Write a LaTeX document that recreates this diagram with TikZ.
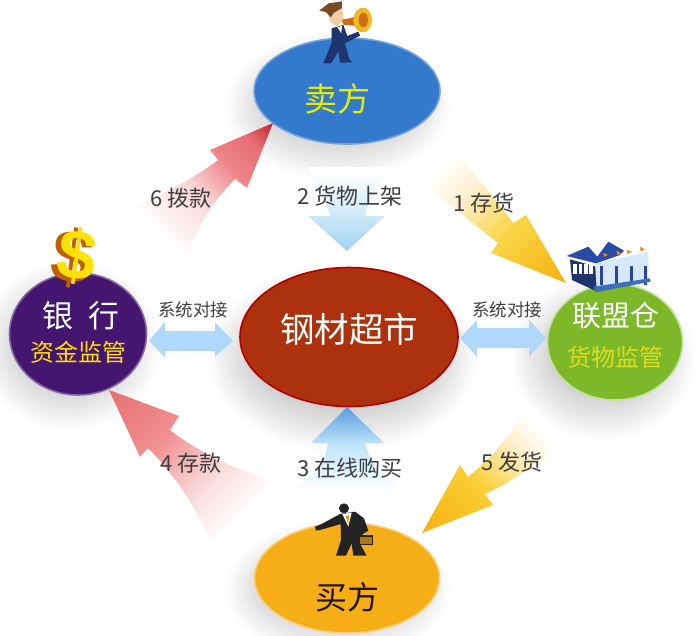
\documentclass[tikz,border=0pt]{standalone}
\usepackage{fontspec}
\setmainfont{Noto Sans CJK SC}
\newfontfamily\dollarfont{Liberation Sans}
\usetikzlibrary{shapes.geometric}
\definecolor{sellerblue}{RGB}{52,122,204}
\definecolor{bankpurple}{RGB}{68,22,112}
\definecolor{wareGreen}{RGB}{124,184,40}
\definecolor{buyerGold}{RGB}{245,174,24}
\definecolor{coreRed}{RGB}{172,50,14}
\definecolor{linkblue}{RGB}{176,216,250}
\definecolor{inkgrey}{RGB}{62,62,66}
\definecolor{navy}{RGB}{30,52,110}
\definecolor{skin}{RGB}{245,205,165}
\definecolor{hair}{RGB}{120,75,35}
\definecolor{horn}{RGB}{240,185,35}
\definecolor{horndark}{RGB}{205,110,20}
\definecolor{portico}{RGB}{215,232,250}
\definecolor{column}{RGB}{40,70,150}
\definecolor{roofblue}{RGB}{42,75,165}
\definecolor{baseblue}{RGB}{60,110,185}
\definecolor{suit}{RGB}{35,35,35}
\definecolor{tiegold}{RGB}{225,150,30}
\definecolor{sixa}{RGB}{250,215,215}
\definecolor{sixb}{RGB}{236,130,135}
\definecolor{sixc}{RGB}{232,110,115}
\definecolor{sixd}{RGB}{195,40,50}
\definecolor{foura}{RGB}{250,220,222}
\definecolor{fourb}{RGB}{240,145,145}
\definecolor{fourc}{RGB}{232,112,112}
\definecolor{onea}{RGB}{252,240,205}
\definecolor{oneb}{RGB}{251,212,70}
\definecolor{onec}{RGB}{245,178,15}
\definecolor{fivea}{RGB}{252,238,195}
\definecolor{fiveb}{RGB}{250,205,50}
\definecolor{fivec}{RGB}{245,178,20}
\definecolor{threea}{RGB}{190,228,250}
\definecolor{threeb}{RGB}{90,155,220}
\definecolor{twoa}{RGB}{205,233,250}
\definecolor{twob}{RGB}{160,210,242}
\pgfdeclareverticalshading{shadesix}{100bp}{color(0bp)=(white); color(30bp)=(white); color(50bp)=(sixa); color(65bp)=(sixb); color(76bp)=(sixc); color(85bp)=(sixd); color(100bp)=(sixd)}
\pgfdeclareverticalshading{shadefour}{100bp}{color(0bp)=(white); color(27bp)=(white); color(42bp)=(foura); color(62bp)=(fourb); color(85bp)=(fourc); color(100bp)=(fourc)}
\pgfdeclareverticalshading{shadeone}{100bp}{color(0bp)=(white); color(24bp)=(white); color(38bp)=(onea); color(58bp)=(oneb); color(85bp)=(onec); color(100bp)=(onec)}
\pgfdeclareverticalshading{shadefive}{100bp}{color(0bp)=(white); color(26bp)=(white); color(38bp)=(fivea); color(58bp)=(fiveb); color(85bp)=(fivec); color(100bp)=(fivec)}
\pgfdeclareverticalshading{shadethree}{100bp}{color(0bp)=(white); color(27bp)=(white); color(54bp)=(threea); color(75bp)=(threeb); color(100bp)=(threeb)}
\pgfdeclareverticalshading{shadetwo}{100bp}{color(0bp)=(white); color(28bp)=(white); color(54bp)=(twoa); color(75bp)=(twob); color(100bp)=(twob)}
\tikzset{
  x=1pt,y=-1pt,
  hub/.style={ellipse,inner sep=0pt,line width=1.6pt},
  cap22/.style={text=inkgrey,font=\fontsize{22}{22}\selectfont,inner sep=0pt},
  cap16/.style={text=inkgrey,font=\fontsize{17.5}{18}\selectfont,inner sep=0pt},
  linkarrow/.style={fill=linkblue},
  icon/.style={shift={(#1)},x=0.3333pt,y=-0.3333pt}
}
\newcommand{\softshadow}[4]{%
  \foreach \k in {0,...,15}{%
    \fill[black,opacity=0.011] (#1,#2) ellipse ({#3+24-3*\k} and {#4+24-3*\k});}}
\begin{document}
\begin{tikzpicture}
\useasboundingbox[fill=white] (0,0) rectangle (700,635);
% soft shadows
\softshadow{338}{106}{88}{50}
\softshadow{70}{346}{66}{60}
\softshadow{603}{358}{68}{58}
\softshadow{343}{358}{110}{70}
\softshadow{338}{590}{88}{46}
% hubs
\node[hub,fill=sellerblue,draw=sellerblue!70!white,minimum width=186pt,minimum height=106pt] (seller) at (347,91) {};
\node[hub,fill=bankpurple,draw=bankpurple!65!white,minimum width=137pt,minimum height=122pt] (bank) at (78,334) {};
\node[hub,fill=wareGreen,draw=wareGreen!45!white,minimum width=135pt,minimum height=116pt] (ware) at (615,342) {};
\node[hub,fill=buyerGold,draw=buyerGold!60!white,minimum width=185pt,minimum height=110pt] (buyer) at (347,578) {};
\node[hub,fill=coreRed,draw=red!70!black,minimum width=218pt,minimum height=139pt] (core) at (349,337) {};
% arrow anchors
\coordinate (tipsix) at (273,123);
\coordinate (tipfour) at (109,390);
\coordinate (tipone) at (566,283);
\coordinate (tipfive) at (422,533);
\coordinate (tiptwo) at (347,251);
\coordinate (tipthree) at (347,407);
% flow arrows
\shade[shading=shadesix,shading angle=-45] (tipsix) -- (247,188) -- (235,179)
  .. controls (212,203) and (197,226) .. (190,250) .. controls (176,262) and (160,270) .. (148,270)
  .. controls (140,250) and (134,230) .. (130,210) .. controls (160,195) and (195,178) .. (218,160) -- (210,150) -- cycle;
\shade[shading=shadefour,shading angle=45] (tipfour) -- (179,416) -- (170,430)
  .. controls (198,452) and (235,470) .. (273,480) .. controls (262,500) and (240,525) .. (210,540)
  .. controls (195,505) and (172,472) .. (148,448) -- (140,457) -- cycle;
\shade[shading=shadeone,shading angle=-135] (tipone) -- (526,215) -- (513,223)
  .. controls (495,198) and (470,168) .. (450,147) .. controls (440,148) and (430,160) .. (423,183)
  .. controls (450,205) and (475,225) .. (498,243) -- (491,253) -- cycle;
\shade[shading=shadefive,shading angle=135] (tipfive) -- (460,465) -- (468,477)
  .. controls (495,455) and (515,430) .. (527,405) .. controls (540,405) and (552,425) .. (557,447)
  .. controls (535,465) and (510,483) .. (485,494) -- (493,505) -- cycle;
\shade[shading=shadetwo,shading angle=180] (tiptwo) -- (308,216) -- (330,216)
  .. controls (325,195) and (315,180) .. (307,167) -- (393,167) .. controls (380,180) and (370,195) .. (365,216)
  -- (385,216) -- cycle;
\shade[shading=shadethree,shading angle=0] (tipthree) -- (311,443) -- (328,443)
  .. controls (325,465) and (310,480) .. (287,495) -- (410,495) .. controls (385,480) and (370,465) .. (365,443)
  -- (384,443) -- cycle;
% double arrows
\coordinate (ll) at (149,341); \coordinate (lr) at (233,341);
\coordinate (rl) at (460,338); \coordinate (rr) at (546,338);
\fill[linkarrow] (ll) -- (165,322) -- (165,331) -- (215,331) -- (215,322) -- (lr) -- (215,357) -- (215,351) -- (165,351) -- (165,357) -- cycle;
\fill[linkarrow] (rl) -- (477,320) -- (477,328) -- (529,328) -- (529,320) -- (rr) -- (529,357) -- (529,348) -- (477,348) -- (477,357) -- cycle;
% seller icon
\begin{scope}[icon={230,0}]
  \fill[navy] (305,85) -- (340,75) -- (352,108) -- (385,95) -- (390,107) -- (345,130) -- (358,178) -- (368,187) -- (330,188) -- (325,155) -- (303,190) -- (280,190) -- (305,128) -- cycle;
  \fill[white] (322,82) -- (336,78) -- (334,100) -- cycle;
  \fill[skin] (290,28) -- (335,18) -- (342,60) -- (322,78) -- (302,68) -- cycle;
  \fill[hair] (268,32) -- (296,10) -- (336,4) -- (336,24) -- (312,38) -- (302,52) -- (288,36) -- cycle;
  \fill[horndark] (336,60) -- (378,50) -- (378,78) -- (340,74) -- cycle;
  \fill[horn] (398,60) ellipse (28 and 37);
  \fill[horndark] (400,60) ellipse (14 and 22);
\end{scope}
% dollar sign
\node[text=orange!75!black,inner sep=0pt,rotate=-8,font=\dollarfont\bfseries\fontsize{74}{74}\selectfont] (dollarback) at (72,258) {\$};
\node[text=yellow!85!orange,inner sep=0pt,rotate=-8,font=\dollarfont\bfseries\fontsize{70}{70}\selectfont] (dollar) at (77,256) {\$};
% warehouse icon
\begin{scope}[icon={460,230}]
  \fill[navy] (330,88) -- (408,110) -- (412,185) -- (336,150) -- cycle;
  \fill[portico] (405,100) -- (565,66) -- (565,148) -- (410,175) -- cycle;
  \foreach \cx in {420,466,510,552}{\fill[column] (\cx,108) rectangle (\cx+9,165);}
  \foreach \wx in {340,357,373,388}{\fill[white] (\wx,102) rectangle (\wx+10,132);}
  \fill[roofblue] (320,78) -- (385,50) -- (412,80) -- (445,35) -- (492,62) -- (480,75) -- (408,100) -- cycle;
  \fill[baseblue] (400,170) -- (570,145) -- (572,155) -- (408,187) -- cycle;
  \fill[orange] (430,68) -- (445,75) -- (432,80) -- cycle;
  \fill[orange] (470,62) -- (484,70) -- (472,76) -- cycle;
  \fill[orange] (500,60) -- (516,65) -- (503,72) -- cycle;
  \fill[orange] (540,50) -- (554,58) -- (542,64) -- cycle;
\end{scope}
% buyer icon
\begin{scope}[icon={240,490}]
  \fill[suit] (300,72) -- (345,65) -- (372,85) -- (385,122) -- (368,132) -- (362,165) -- (380,197) -- (340,197) -- (335,160) -- (318,197) -- (288,197) -- (303,150) -- (302,102) -- (248,118) -- (228,122) -- (225,110) -- (245,102) -- cycle;
  \fill[suit] (312,55) circle (15);
  \fill[white] (307,72) -- (335,68) -- (325,110) -- cycle;
  \fill[tiegold] (317,78) -- (327,76) -- (325,105) -- cycle;
  \fill[suit] (354,135) rectangle (400,166);
  \fill[buyerGold!70!black] (360,141) rectangle (395,161);
\end{scope}
% hub texts
\node[text=yellow!90!green,inner sep=0pt,font=\fontsize{33}{33}\selectfont] (sellertxt) at (337,99) {卖方};
\node[text=white,inner sep=0pt,font=\fontsize{34.5}{35}\selectfont] (coretxt) at (349,329) {钢材超市};
\node[text=white,inner sep=0pt,font=\fontsize{31}{31}\selectfont] (banktxt) at (81,316) {银\,\,\,行};
\node[text=yellow!80!orange,inner sep=0pt,font=\fontsize{24}{24}\selectfont] (banksub) at (78,352) {资金监管};
\node[text=white,inner sep=0pt,font=\fontsize{29}{29}\selectfont] (waretxt) at (616,316) {联盟仓};
\node[text=yellow!70!wareGreen,inner sep=0pt,font=\fontsize{24}{24}\selectfont] (waresub) at (615,357) {货物监管};
\node[text=black!85!orange,inner sep=0pt,font=\fontsize{32}{32}\selectfont] (buyertxt) at (347,597) {买方};
% captions
\node[cap22] (cap1) at (484,203) {1 存货};
\node[cap22] (cap2) at (350,196) {2 货物上架};
\node[cap22] (cap3) at (350,468) {3 在线购买};
\node[cap22] (cap4) at (191,463) {4 存款};
\node[cap22] (cap5) at (512,462) {5 发货};
\node[cap22] (cap6) at (181,198) {6 拨款};
\node[cap16] (linkl) at (193,310) {系统对接};
\node[cap16] (linkr) at (507,310) {系统对接};
\end{tikzpicture}
\end{document}
